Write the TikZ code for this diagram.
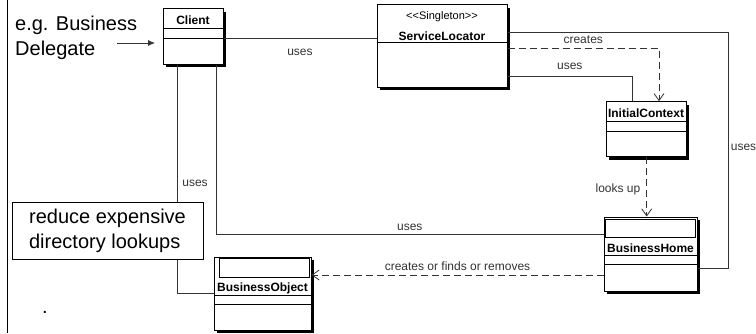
\documentclass[tikz,border=0pt]{standalone}
\usepackage{fontspec}
\setmainfont{Liberation Sans}
\usepackage{tikz}
\usetikzlibrary{arrows.meta,shadows}
\definecolor{LineGray}{HTML}{333333}

\begin{document}
\begin{tikzpicture}[x=1pt,y=1pt,
  every node/.style={font=\fontsize{12}{14}\selectfont},
  umlclass/.style={draw=black, fill=white, line width=1pt,
    drop shadow={shadow xshift=3pt, shadow yshift=-3pt, fill=black, opacity=1}},
  classname/.style={font=\fontsize{12}{14}\selectfont\bfseries, inner sep=0pt},
  assoc/.style={draw=LineGray, line width=0.8pt},
  depend/.style={assoc, dash pattern=on 7pt off 4pt,
    -{Straight Barb[length=7pt,width=10pt]}},
  lbl/.style={text=LineGray, inner sep=0pt},
  bigtext/.style={font=\fontsize{20}{25}\selectfont, align=left, inner sep=0pt}]

  \clip (0,0) rectangle (756,333);
  \draw[line width=1pt] (7,0) -- (7,333);

  % class boxes
  \node[umlclass, minimum width=60pt, minimum height=55pt] (client) at (193,296.5) {};
  \node[umlclass, minimum width=130pt, minimum height=82pt] (sl) at (442,287) {};
  \node[umlclass, minimum width=80pt, minimum height=55pt] (ic) at (646,203.8) {};
  \node[umlclass, minimum width=93pt, minimum height=74pt] (bh) at (650.5,79) {};
  \node[umlclass, minimum width=97pt, minimum height=73pt] (bo) at (262.5,39.5) {};

  \foreach \cls/\dy in {client/20, client/30, ic/20, ic/30, sl/38, bh/39, bh/48, bo/39, bo/48}
    \draw[line width=0.8pt] ([yshift=-\dy pt]\cls.north west) -- ([yshift=-\dy pt]\cls.north east);

  \draw[line width=0.8pt] ([shift={(2pt,-3pt)}]bh.north west) rectangle ([shift={(-2pt,-21pt)}]bh.north east);
  \draw[line width=0.8pt] ([shift={(6pt,-2pt)}]bo.north west) rectangle ([shift={(-2pt,-21pt)}]bo.north east);

  \foreach \cls/\dy/\txt in {client/12/Client, ic/12/InitialContext, sl/32/ServiceLocator,
      bh/32/BusinessHome, bo/32/BusinessObject}
    \node[classname] (\cls-name) at ([yshift=-\dy pt]\cls.north) {\txt};
  \node[inner sep=0pt, font=\fontsize{11}{13}\selectfont] (sl-stereo) at ([yshift=-12pt]sl.north)
    {<{}<Singleton>{}>};

  % associations and dependencies
  \draw[assoc] ([yshift=-1.5pt]client.east) -- ([yshift=-1.5pt]client.east -| sl.west)
    node[lbl, midway, below=11pt] {uses};
  \draw[assoc] ([yshift=-30pt]sl.east) -| ([xshift=-14pt]ic.north)
    node[lbl, pos=0.25, above=6pt] {uses};
  \draw[depend] ([yshift=-2pt]sl.east) -| ([xshift=13pt]ic.north)
    node[lbl, pos=0.25, above=4pt] {creates};
  \draw[assoc] ([yshift=14pt]sl.east) -| ([xshift=31pt,yshift=-14pt]bh.east)
    node[lbl, pos=0.745, right=2pt] {uses} -- ([yshift=-14pt]bh.east);
  \draw[depend] ([xshift=0.7pt]ic.south) -- ([xshift=0.7pt]ic.south |- bh.north)
    node[lbl, pos=0.55, left=6pt] {looks up};
  \draw[assoc] ([xshift=23pt]client.south) |- ([yshift=20pt]bh.west)
    node[lbl, pos=0.75, above=3pt] {uses};
  \draw[assoc] ([xshift=-16pt]client.south) |- (bo.west)
    node[lbl, pos=0.26, right=5pt] {uses};
  \draw[depend] ([yshift=-21pt]bh.west) -- ([yshift=-21pt]bh.west -| bo.east)
    node[lbl, midway, above=4pt] {creates or finds or removes};

  % notes
  \node[bigtext, anchor=north west] (delegate) at (15,317.5) {e.g. Business\\Delegate};
  \coordinate (egtail) at (117,290);
  \coordinate (eghead) at (155,290);
  \draw[assoc, -{Latex[length=7pt,width=6pt]}] (egtail) -- (eghead);

  \node[draw=black, fill=white, line width=0.8pt, minimum width=191pt, minimum height=57pt,
    font=\fontsize{20}{25}\selectfont, align=left] (note) at (107.5,102.5)
    {reduce expensive\\directory lookups};
  \node[inner sep=0pt, anchor=base, font=\fontsize{20}{25}\selectfont] (dot) at (45,19.5) {.};
\end{tikzpicture}
\end{document}
